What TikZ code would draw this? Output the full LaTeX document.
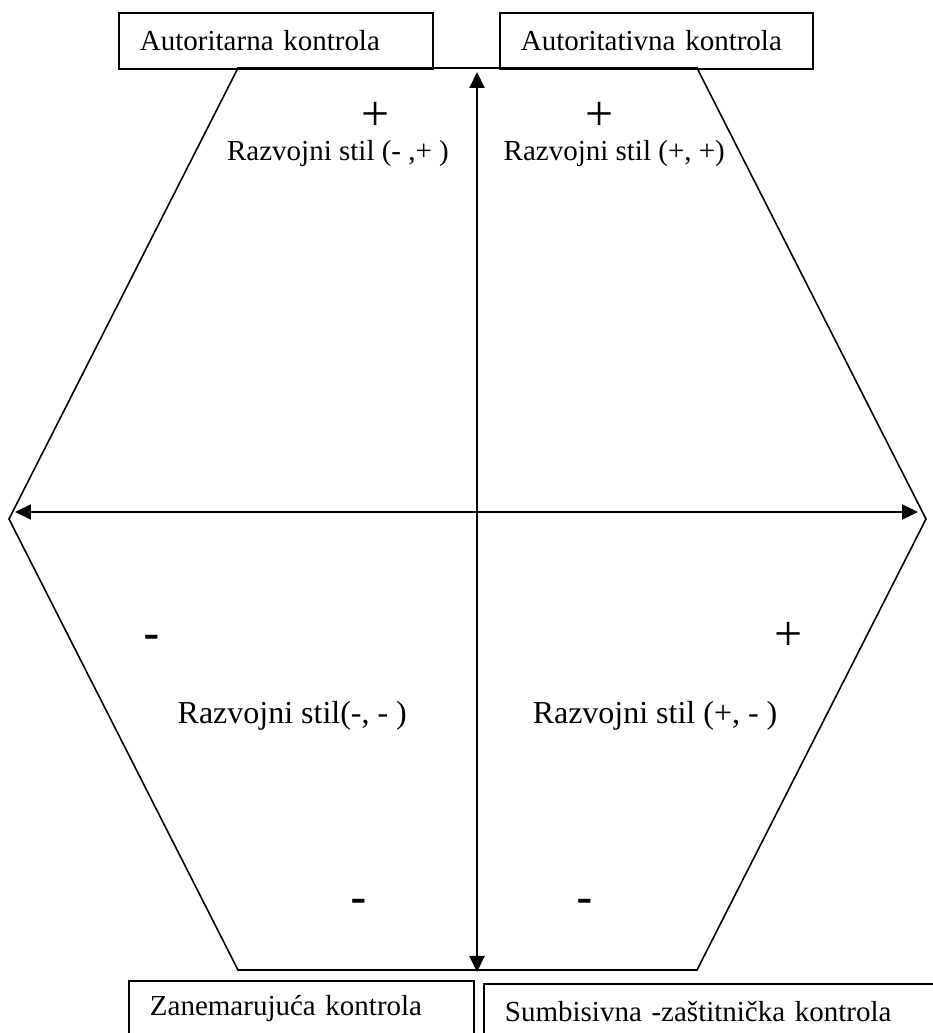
\documentclass[tikz,border=0pt]{standalone}
\usepackage{fontspec}
\setmainfont{Liberation Serif}
\newfontfamily\dashfont{Liberation Sans}
\usetikzlibrary{arrows.meta}

\begin{document}
\begin{tikzpicture}[
    ctrlbox/.style={draw, line width=0.55pt, anchor=north west, minimum height=0.56cm,
        inner xsep=0.21cm, inner ysep=0pt, align=left, font=\fontsize{8.25}{10}\selectfont},
    stylelbl/.style={inner sep=0pt, font=\fontsize{8.25}{10}\selectfont},
    quadlbl/.style={inner sep=0pt, font=\fontsize{9.1}{11}\selectfont},
    plussign/.style={inner sep=0pt, font=\fontsize{14.2}{16}\selectfont},
    minussign/.style={inner sep=0pt, font=\dashfont\fontsize{14.2}{16}\selectfont},
    axisarrow/.style={line width=0.55pt, {Triangle[length=1.6mm,width=1.5mm]}-{Triangle[length=1.6mm,width=1.5mm]}}
]
        \useasboundingbox (0,0) rectangle (9.33,10.33);
        \clip (0,0) rectangle (9.33,10.33);

        % Hexagon
        \draw[line width=0.45pt] (2.38,9.65) -- (6.97,9.65) -- (9.26,5.14) -- (6.97,0.63)
            -- (2.38,0.63) -- (0.09,5.14) -- cycle;

        % Axes
        \coordinate (vtop) at (4.77,9.61);
        \coordinate (vbot) at (4.77,0.61);
        \coordinate (hleft) at (0.15,5.21);
        \coordinate (hright) at (9.18,5.21);
        \draw[axisarrow] (vbot) -- (vtop);
        \draw[axisarrow] (hleft) -- (hright);

        % Control boxes
        \node[ctrlbox, text width=2.72cm] (autoritarna) at (1.18,10.21) {Autoritarna kontrola};
        \node[ctrlbox, text width=2.71cm] (autoritativna) at (4.99,10.21) {Autoritativna kontrola};
        \node[ctrlbox, text width=3.03cm] (zanemarujuca) at (1.28,0.53) {Zanemarujuća kontrola};
        \node[ctrlbox, text width=4.28cm] (sumbisivna) at (4.83,0.50) {Sumbisivna -zaštitnička kontrola};

        % Upper quadrants
        \node[plussign] (plusTL) at (3.76,9.17) {+};
        \node[plussign] (plusTR) at (6.00,9.17) {+};
        \node[stylelbl, anchor=base] (styleTL) at (3.38,8.72) {Razvojni stil (- ,+ )};
        \node[stylelbl, anchor=base west] (styleTR) at (5.03,8.72) {Razvojni stil (+, +)};

        % Lower quadrants
        \node[minussign] (minusL) at (1.52,3.90) {-};
        \node[plussign] (plusR) at (7.89,3.97) {+};
        \node[quadlbl, anchor=base west] (styleBL) at (1.77,3.09) {Razvojni stil(-, - )};
        \node[quadlbl, anchor=base east] (styleBR) at (7.78,3.09) {Razvojni stil (+, - )};
        \node[minussign] (minusBL) at (3.59,1.26) {-};
        \node[minussign] (minusBR) at (5.85,1.26) {-};
    \end{tikzpicture}
\end{document}
